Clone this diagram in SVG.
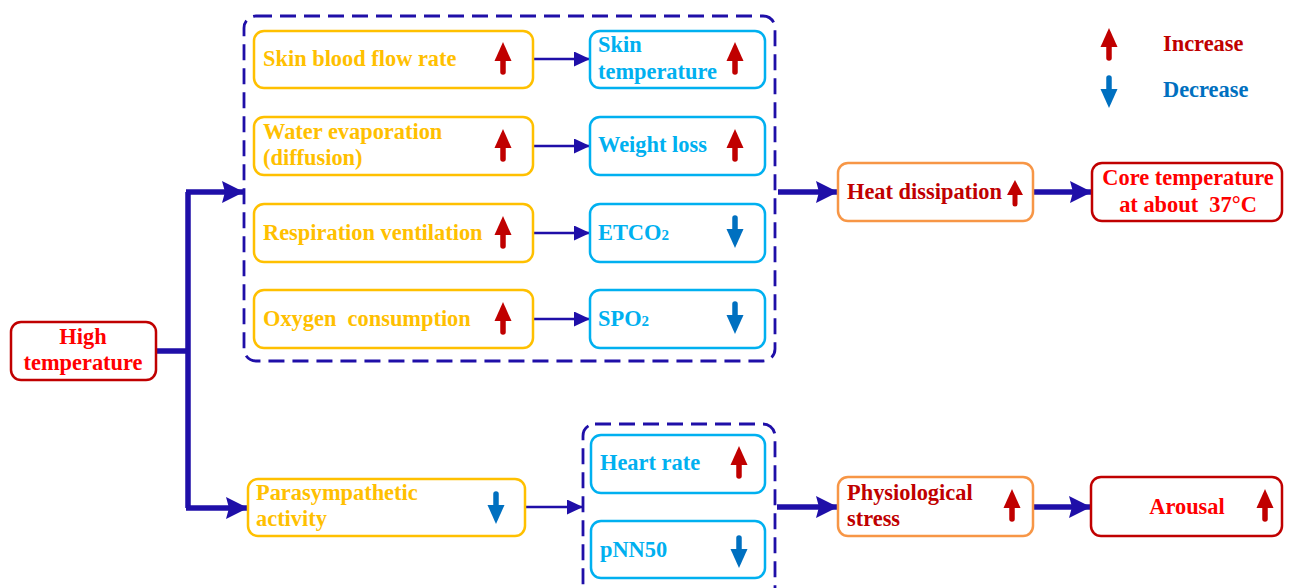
<svg xmlns="http://www.w3.org/2000/svg" xmlns:xlink="http://www.w3.org/1999/xlink" width="1293" height="588" viewBox="0 0 1293 588">
<style>
text{font-family:"Liberation Serif","Times New Roman",serif;font-weight:bold;font-size:22.4px;white-space:pre}
.y{fill:#FFC000}
.c{fill:#00B0F0}
.dr{fill:#C00000}
.r{fill:#FF0000}
.bl{fill:#0070C0}
.boxY{fill:#fff;stroke:#FFC000;stroke-width:2.5}
.boxC{fill:#fff;stroke:#00B0F0;stroke-width:2.5}
.boxO{fill:#fff;stroke:#F79646;stroke-width:2.5}
.boxR{fill:#fff;stroke:#C00000;stroke-width:2.5}
.dash{fill:none;stroke:#1F0FA8;stroke-width:2.8;stroke-dasharray:16 8}
.thin{fill:none;stroke:#1F0FA8;stroke-width:2.6}
.thick{fill:none;stroke:#1F0FA8;stroke-width:5.5}
</style>
<defs>
<marker id="mThin" viewBox="0 0 16 15" refX="16" refY="7.5" markerWidth="16" markerHeight="15" markerUnits="userSpaceOnUse" orient="auto">
<path d="M0,0 L16,7.5 L0,15 Z" fill="#1F0FA8"/>
</marker>
<marker id="mThick" viewBox="0 0 22 22" refX="22" refY="11" markerWidth="22" markerHeight="22" markerUnits="userSpaceOnUse" orient="auto">
<path d="M0,0 L22,11 L0,22 L3,11 Z" fill="#1F0FA8"/>
</marker>
<g id="up">
<path d="M0,2 V14" stroke="#C00000" stroke-width="5.5" stroke-linecap="round" fill="none"/>
<path d="M0,-16 L8.5,3 L-8.5,3 Z" fill="#C00000"/>
</g>
<g id="down">
<path d="M0,-2 V-14" stroke="#0070C0" stroke-width="5.5" stroke-linecap="round" fill="none"/>
<path d="M0,16 L8.5,-3 L-8.5,-3 Z" fill="#0070C0"/>
</g>
<g id="upS">
<path d="M0,0 V11" stroke="#C00000" stroke-width="5" stroke-linecap="round" fill="none"/>
<path d="M0,-13 L8,2 L-8,2 Z" fill="#C00000"/>
</g>
</defs>

<g id="connectors">
<path class="thick" d="M156,351 H188 M188,192 V508"/>
<path class="thick" d="M186,192 H244" marker-end="url(#mThick)"/>
<path class="thick" d="M186,508 H248" marker-end="url(#mThick)"/>
<path class="thin" d="M533,59 H590" marker-end="url(#mThin)"/>
<path class="thin" d="M533,146 H590" marker-end="url(#mThin)"/>
<path class="thin" d="M533,233 H590" marker-end="url(#mThin)"/>
<path class="thin" d="M533,319 H590" marker-end="url(#mThin)"/>
<path class="thin" d="M525,507 H583" marker-end="url(#mThin)"/>
<path class="thick" d="M778,192 H838" marker-end="url(#mThick)"/>
<path class="thick" d="M1033,192 H1092" marker-end="url(#mThick)"/>
<path class="thick" d="M777,507 H838" marker-end="url(#mThick)"/>
<path class="thick" d="M1033,507 H1091" marker-end="url(#mThick)"/>
</g>

<g id="group-thermo">
<rect class="dash" x="244" y="16" width="531" height="345" rx="12"/>
</g>
<g id="group-hrv">
<rect class="dash" x="583" y="424" width="192" height="190" rx="12"/>
</g>

<g id="high-temperature">
<rect class="boxR" x="11" y="322" width="145" height="58" rx="10"/>
<text class="r" x="83" y="344" text-anchor="middle">High</text>
<text class="r" x="83" y="370" text-anchor="middle">temperature</text>
</g>

<g id="skin-blood-flow">
<rect class="boxY" x="254" y="31" width="279" height="57" rx="10"/>
<text class="y" x="263" y="66">Skin blood flow rate</text>
<use xlink:href="#up" x="503" y="58"/>
</g>
<g id="skin-temperature">
<rect class="boxC" x="590" y="31" width="175" height="57" rx="10"/>
<text class="c" x="598" y="52">Skin</text>
<text class="c" x="598" y="79">temperature</text>
<use xlink:href="#up" x="735" y="58"/>
</g>

<g id="water-evaporation">
<rect class="boxY" x="254" y="117" width="279" height="58" rx="10"/>
<text class="y" x="263" y="139">Water evaporation</text>
<text class="y" x="263" y="165">(diffusion)</text>
<use xlink:href="#up" x="503" y="145"/>
</g>
<g id="weight-loss">
<rect class="boxC" x="590" y="117" width="175" height="58" rx="10"/>
<text class="c" x="598" y="152">Weight loss</text>
<use xlink:href="#up" x="735" y="145"/>
</g>

<g id="respiration">
<rect class="boxY" x="254" y="204" width="279" height="58" rx="10"/>
<text class="y" x="263" y="240">Respiration ventilation</text>
<use xlink:href="#up" x="503" y="232"/>
</g>
<g id="etco2">
<rect class="boxC" x="590" y="204" width="175" height="58" rx="10"/>
<text class="c" x="598" y="240">ETCO<tspan font-size="15">2</tspan></text>
<use xlink:href="#down" x="735" y="232"/>
</g>

<g id="oxygen">
<rect class="boxY" x="254" y="290" width="279" height="58" rx="10"/>
<text class="y" x="263" y="326">Oxygen  consumption</text>
<use xlink:href="#up" x="503" y="318"/>
</g>
<g id="spo2">
<rect class="boxC" x="590" y="290" width="175" height="58" rx="10"/>
<text class="c" x="598" y="326">SPO<tspan font-size="15">2</tspan></text>
<use xlink:href="#down" x="735" y="318"/>
</g>

<g id="heat-dissipation">
<rect class="boxO" x="838" y="163" width="195" height="58" rx="10"/>
<text class="dr" x="847" y="199">Heat dissipation</text>
<use xlink:href="#upS" x="1015" y="193"/>
</g>
<g id="core-temperature">
<rect class="boxR" x="1092" y="163" width="190" height="58" rx="10"/>
<text class="r" x="1188" y="185" text-anchor="middle">Core temperature</text>
<text class="r" x="1188" y="212" text-anchor="middle">at about  37°C</text>
</g>

<g id="parasympathetic">
<rect class="boxY" x="248" y="479" width="277" height="57" rx="10"/>
<text class="y" x="256" y="500">Parasympathetic</text>
<text class="y" x="256" y="526">activity</text>
<use xlink:href="#down" x="496" y="508"/>
</g>
<g id="heart-rate">
<rect class="boxC" x="591" y="435" width="174" height="58" rx="10"/>
<text class="c" x="600" y="470">Heart rate</text>
<use xlink:href="#up" x="739" y="462"/>
</g>
<g id="pnn50">
<rect class="boxC" x="591" y="521" width="174" height="57" rx="10"/>
<text class="c" x="600" y="557">pNN50</text>
<use xlink:href="#down" x="739" y="552"/>
</g>

<g id="physiological-stress">
<rect class="boxO" x="838" y="477" width="195" height="59" rx="10"/>
<text class="dr" x="847" y="500">Physiological</text>
<text class="dr" x="847" y="526">stress</text>
<use xlink:href="#up" x="1012" y="505"/>
</g>
<g id="arousal">
<rect class="boxR" x="1091" y="477" width="191" height="59" rx="10"/>
<text class="r" x="1187" y="514" text-anchor="middle">Arousal</text>
<use xlink:href="#up" x="1265" y="505"/>
</g>

<g id="legend">
<use xlink:href="#up" x="1109" y="44"/>
<text class="dr" x="1163" y="51">Increase</text>
<use xlink:href="#down" x="1109" y="92"/>
<text class="bl" x="1163" y="97">Decrease</text>
</g>
</svg>
